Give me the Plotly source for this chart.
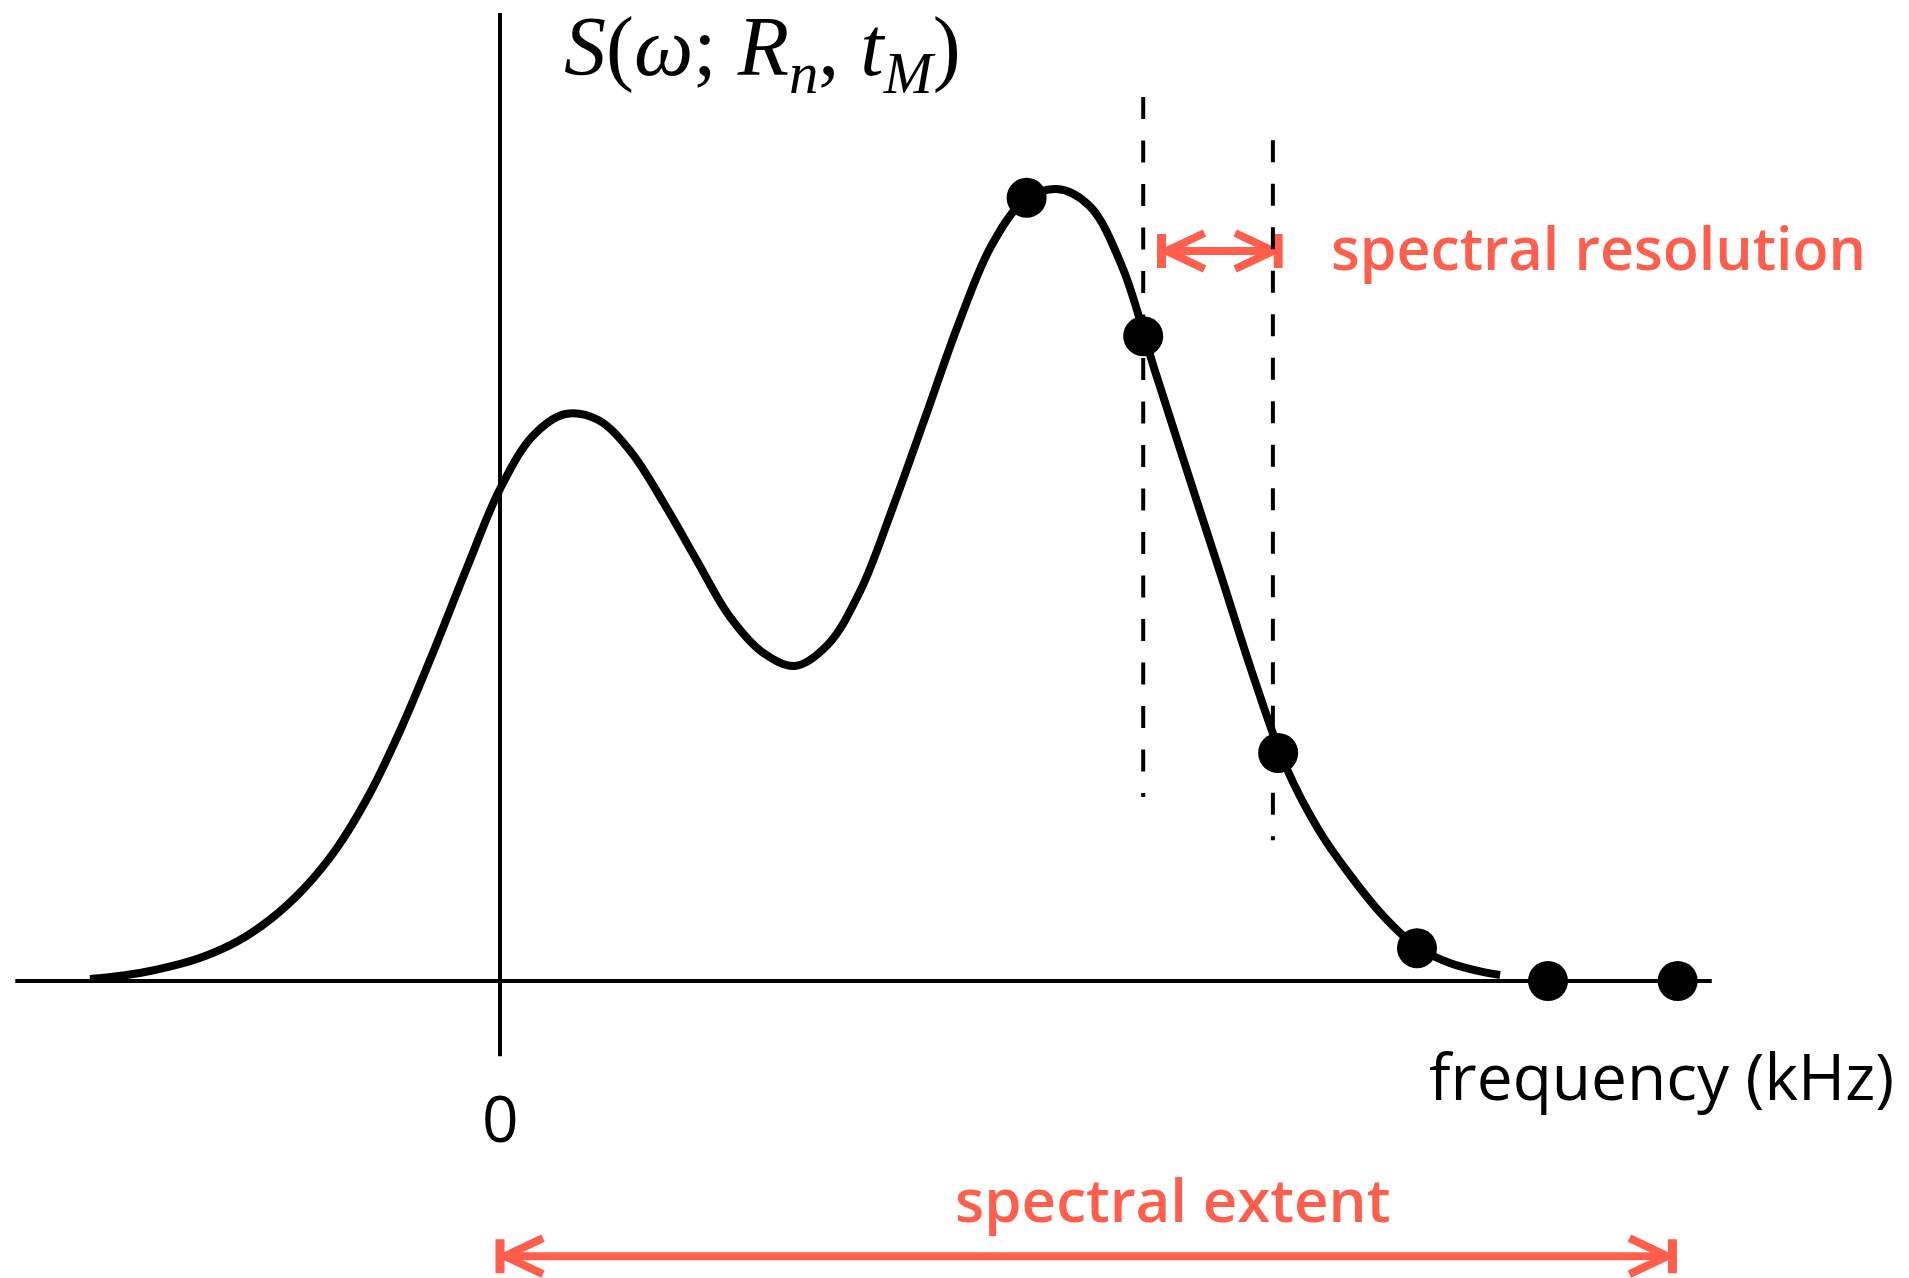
import plotly.graph_objects as go

# Smooth spectrum S(omega): amplitude sampled every 0.25 kHz along the trace
freq_khz = [-3.13, -3.0, -2.75, -2.5, -2.25, -2.0, -1.75, -1.5, -1.25, -1.0,
            -0.75, -0.5, -0.25, 0.0, 0.25, 0.5, 0.75, 1.0, 1.25, 1.5,
            1.75, 2.0, 2.25, 2.5, 2.75, 3.0, 3.25, 3.5, 3.75, 4.0,
            4.25, 4.5, 4.75, 5.0, 5.25, 5.5, 5.75, 6.0, 6.25, 6.5,
            6.75, 7.0, 7.25, 7.5, 7.634]
spectrum = [0.0025, 0.0044, 0.01, 0.0188, 0.0313, 0.05, 0.0775, 0.115, 0.165, 0.2325,
            0.3175, 0.415, 0.5175, 0.615, 0.6813, 0.7088, 0.7013, 0.6613, 0.5975, 0.5263,
            0.4563, 0.4113, 0.3938, 0.42, 0.4875, 0.5925, 0.7063, 0.8213, 0.9188, 0.975,
            0.99, 0.9688, 0.8925, 0.7625, 0.635, 0.5088, 0.3813, 0.2675, 0.1888, 0.13,
            0.08, 0.0425, 0.0225, 0.0113, 0.0075]

# Discrete samples of the spectrum
sample_freq = [4.02, 4.91, 5.94, 7.0, 8.0, 8.99]
sample_val = [0.979, 0.806, 0.285, 0.041, 0.0, 0.0]

# Dashed window lines (x position, top, bottom)
window_x = [4.91, 5.90]
window_top = [1.105, 1.051]
window_bottom = [0.23, 0.176]

# Double-headed arrows: span and level
resolution_span = [5.05, 5.94]
resolution_level = 0.9125
extent_span = [0.0, 8.95]
extent_level = -0.344

# Axis line extents
axis_x_extent = [-3.70, 9.25]
axis_y_extent = [-0.094, 1.21]

W, H = 1909, 1278
PX_X, PX_Y = 131.0, 800.0  # pixels per unit
X0_PX, Y0_PX = 500.0, 981.0
x_range = [-X0_PX / PX_X, (W - X0_PX) / PX_X]
y_range = [-(H - Y0_PX) / PX_Y, Y0_PX / PX_Y]

RED = "#FF5E4D"
BLACK = "#000000"

shapes = []

# axes
shapes.append(dict(type="line", xref="x", yref="y", layer="below",
                   x0=axis_x_extent[0], x1=axis_x_extent[1], y0=0, y1=0,
                   line=dict(color=BLACK, width=4)))
shapes.append(dict(type="line", xref="x", yref="y", layer="below",
                   x0=0, x1=0, y0=axis_y_extent[0], y1=axis_y_extent[1],
                   line=dict(color=BLACK, width=4)))


def double_arrow(span, level):
    out = []
    a, b = span
    out.append(dict(type="line", xref="x", yref="y", layer="below",
                    x0=a, x1=b, y0=level, y1=level,
                    line=dict(color=RED, width=8)))
    for xe in (a, b):
        out.append(dict(type="line", xref="x", yref="y", layer="below",
                        ysizemode="pixel", yanchor=level, x0=xe, x1=xe,
                        y0=-17, y1=17, line=dict(color=RED, width=9)))
    out.append(dict(type="path", xref="x", yref="y", layer="below",
                    xsizemode="pixel", ysizemode="pixel", xanchor=a, yanchor=level,
                    path="M 43,18 L 5,0 L 43,-18", line=dict(color=RED, width=8)))
    out.append(dict(type="path", xref="x", yref="y", layer="below",
                    xsizemode="pixel", ysizemode="pixel", xanchor=b, yanchor=level,
                    path="M -43,18 L -5,0 L -43,-18", line=dict(color=RED, width=8)))
    return out


shapes += double_arrow(resolution_span, resolution_level)
shapes += double_arrow(extent_span, extent_level)

for xw, yt, yb in zip(window_x, window_top, window_bottom):
    shapes.append(dict(type="line", xref="x", yref="y", layer="below",
                       x0=xw, x1=xw, y0=yt, y1=yb,
                       line=dict(color=BLACK, width=4, dash="22px,21.5px")))

fig = go.Figure()
fig.add_trace(go.Scatter(x=freq_khz, y=spectrum, mode="lines",
                         line=dict(color=BLACK, width=8, shape="spline", smoothing=1.0),
                         hoverinfo="skip", showlegend=False))
fig.add_trace(go.Scatter(x=sample_freq, y=sample_val, mode="markers",
                         marker=dict(color=BLACK, size=40, line=dict(width=0)),
                         hoverinfo="skip", showlegend=False))

annotations = [
    dict(text="<i>S</i>(<i>ω</i>; <i>R</i><sub><i>n</i></sub>, <i>t</i><sub><i>M</i></sub>)",
         x=2.0, y=y_range[1], xanchor="center", yanchor="top",
         borderpad=0, borderwidth=0,
         font=dict(family="Liberation Serif", size=84, color=BLACK)),
    dict(text="spectral resolution", x=6.33, y=0.9175, xanchor="left", yanchor="middle",
         font=dict(family="Open Sans", size=59, color=RED, weight=600)),
    dict(text="spectral extent", x=5.13, y=-0.2725, xanchor="center", yanchor="middle",
         font=dict(family="Open Sans", size=60, color=RED, weight=600)),
    dict(text="frequency (kHz)", x=7.076, y=-0.1175, xanchor="left", yanchor="middle",
         font=dict(family="Open Sans", size=64, color=BLACK)),
    dict(text="0", x=0, y=-0.17, xanchor="center", yanchor="middle",
         font=dict(family="Open Sans", size=64, color=BLACK)),
]
for an in annotations:
    an.update(xref="x", yref="y", showarrow=False)

fig.update_layout(
    width=W, height=H, autosize=False,
    margin=dict(l=0, r=0, t=0, b=0, pad=0),
    paper_bgcolor="white", plot_bgcolor="white",
    xaxis=dict(range=x_range, visible=False, fixedrange=True),
    yaxis=dict(range=y_range, visible=False, fixedrange=True),
    shapes=shapes, annotations=annotations, showlegend=False,
)

fig.write_html("out.html", config={"displayModeBar": False})
